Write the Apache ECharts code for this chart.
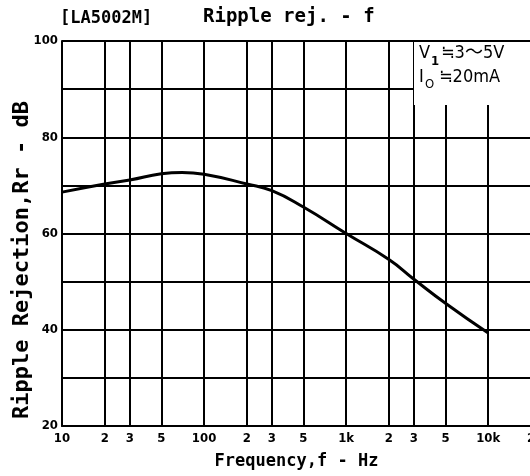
<!DOCTYPE html>
<html>
<head>
<meta charset="utf-8">
<script src="https://cdn.jsdelivr.net/npm/echarts@6/dist/echarts.min.js"></script>
<style>
  html, body { margin: 0; padding: 0; background: #fff; }
  #chart { width: 530px; height: 476px; }
</style>
</head>
<body>
<div id="chart"></div>
<script>
// Ripple rejection vs frequency (LA5002M)
const freqs = [10, 20, 30, 50, 70, 100, 200, 300, 500, 1000, 2000, 3000, 5000, 10000];
const rejection = [68.6, 70.3, 71.1, 72.4, 72.7, 72.3, 70.3, 68.9, 65.5, 60.0, 54.6, 50.5, 45.5, 39.3];

const xTicks = [10, 20, 30, 50, 100, 200, 300, 500, 1000, 2000, 3000, 5000, 10000, 20000];
const xTickLabels = ["10", "2", "3", "5", "100", "2", "3", "5", "1k", "2", "3", "5", "10k", "2"];
const yLabels = [20, 40, 60, 80, 100];

const mono = "'DejaVu Sans Mono', monospace";
const labelFont = "'DejaVu Sans Condensed', 'DejaVu Sans', sans-serif";
const noteFont = "'DejaVu Sans Condensed', 'Noto Sans CJK JP', sans-serif";

const chart = echarts.init(document.getElementById("chart"), null, { renderer: "canvas" });

chart.setOption({
  backgroundColor: "#fff",
  animation: false,
  grid: { left: 62, right: -1, top: 41, bottom: 50, containLabel: false, outerBoundsMode: "none" },
  xAxis: {
    type: "log",
    logBase: 10,
    min: 10,
    max: 20000,
    name: "Frequency,f - Hz",
    nameLocation: "middle",
    nameGap: 27,
    nameTextStyle: { fontFamily: mono, fontWeight: "bold", fontSize: 17, color: "#000" },
    axisLine: { lineStyle: { color: "#000", width: 2 } },
    axisTick: { show: false, customValues: xTicks },
    splitLine: { show: true, lineStyle: { color: "#000", width: 2 } },
    axisLabel: {
      customValues: xTicks,
      margin: 6,
      color: "#000",
      fontFamily: labelFont,
      fontWeight: "bold",
      fontSize: 13,
      formatter: (v) => {
        const i = xTicks.findIndex((t) => Math.abs(t - v) / t < 1e-6);
        return i >= 0 ? xTickLabels[i] : "";
      },
    },
  },
  yAxis: {
    type: "value",
    min: 20,
    max: 100,
    interval: 10,
    axisLine: { show: true, lineStyle: { color: "#000", width: 2 } },
    axisTick: { show: false },
    splitLine: { show: true, lineStyle: { color: "#000", width: 2 } },
    axisLabel: {
      margin: 4,
      color: "#000",
      fontFamily: labelFont,
      fontWeight: "bold",
      fontSize: 13,
      formatter: (v) => (yLabels.includes(v) ? String(v) : ""),
    },
  },
  graphic: [
    { type: "text", left: 60, top: 10, style: { text: "[LA5002M]", font: "bold 17px " + mono, fill: "#000" } },
    { type: "text", left: 203, top: 8, style: { text: "Ripple rej. - f", font: "bold 19px " + mono, fill: "#000" } },
    {
      type: "text", x: 22, y: 260, rotation: Math.PI / 2,
      style: { text: "Ripple Rejection,Rr - dB", font: "bold 22px " + mono, fill: "#000", align: "center", verticalAlign: "middle" },
    },
    { type: "rect", z: 10, shape: { x: 414, y: 42, width: 120, height: 63 }, style: { fill: "#fff" } },
    { type: "text", z: 11, left: 419, top: 44, style: { text: "V", font: "18px " + labelFont, fill: "#000" } },
    { type: "text", z: 11, left: 431, top: 55, style: { text: "1", font: "bold 13px " + labelFont, fill: "#000" } },
    { type: "text", z: 11, left: 441, top: 44, style: { text: "≒3～5V", font: "18px " + noteFont, fill: "#000" } },
    { type: "text", z: 11, left: 419, top: 68, style: { text: "I", font: "18px " + labelFont, fill: "#000" } },
    { type: "text", z: 11, left: 425, top: 78, style: { text: "O", font: "13px " + labelFont, fill: "#000" } },
    { type: "text", z: 11, left: 439, top: 68, style: { text: "≒20mA", font: "18px " + noteFont, fill: "#000" } },
  ],
  series: [
    {
      type: "line",
      data: freqs.map((f, i) => [f, rejection[i]]),
      smooth: 0.5,
      showSymbol: false,
      lineStyle: { color: "#000", width: 3 },
      z: 5,
    },
  ],
});
</script>
</body>
</html>
